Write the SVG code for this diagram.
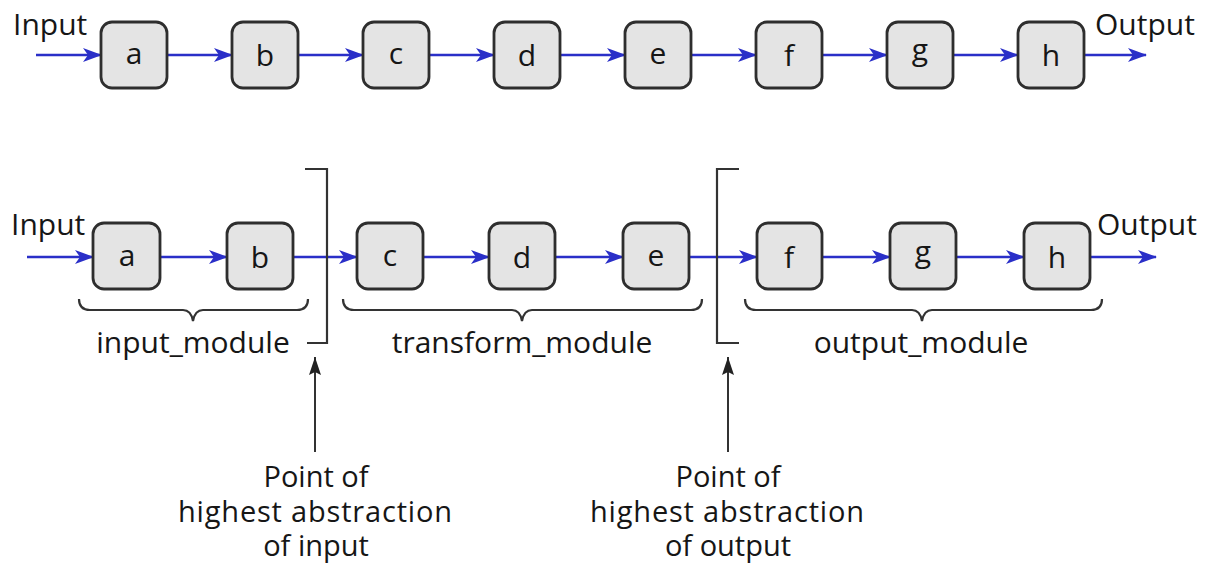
<svg xmlns="http://www.w3.org/2000/svg" width="1211" height="567" viewBox="0 0 1211 567">
<defs>
<style>
.box{fill:#e4e4e4;stroke:#2e2e2e;stroke-width:2.8}
.lbl{font-family:"Open Sans","Liberation Sans",sans-serif;font-size:30px;fill:#161616}
.note{font-size:29px}
.mid{text-anchor:middle}
.flow{stroke:#2a2fc8;stroke-width:2.6;fill:none;marker-end:url(#ba)}
.bk{stroke:#333;stroke-width:2.2;fill:none}
.up{stroke:#333;stroke-width:2;fill:none;marker-end:url(#ka)}
</style>
<marker id="ba" markerUnits="userSpaceOnUse" markerWidth="20" markerHeight="16" refX="18" refY="8" orient="auto"><path d="M0,1 L19,8 L0,15 L5,8 z" fill="#2a2fc8"/></marker>
<marker id="ka" markerUnits="userSpaceOnUse" markerWidth="20" markerHeight="14" refX="18" refY="7" orient="auto"><path d="M0,1 L18,7 L0,13 L3,7 z" fill="#222"/></marker>
</defs>
<rect width="1211" height="567" fill="#fff"/>

<g id="connectors">
<line class="flow" x1="36" y1="55" x2="101" y2="55"/>
<line class="flow" x1="167" y1="55" x2="232" y2="55"/>
<line class="flow" x1="298" y1="55" x2="363" y2="55"/>
<line class="flow" x1="429" y1="55" x2="494" y2="55"/>
<line class="flow" x1="560" y1="55" x2="625" y2="55"/>
<line class="flow" x1="691" y1="55" x2="756" y2="55"/>
<line class="flow" x1="822" y1="55" x2="887" y2="55"/>
<line class="flow" x1="953" y1="55" x2="1018" y2="55"/>
<line class="flow" x1="1084" y1="55" x2="1146" y2="55"/>

<line class="flow" x1="27" y1="257" x2="93" y2="257"/>
<line class="flow" x1="160" y1="257" x2="227" y2="257"/>
<line class="flow" x1="293" y1="257" x2="357" y2="257"/>
<line class="flow" x1="423" y1="257" x2="489" y2="257"/>
<line class="flow" x1="555" y1="257" x2="623" y2="257"/>
<line class="flow" x1="689" y1="257" x2="757" y2="257"/>
<line class="flow" x1="822" y1="257" x2="890" y2="257"/>
<line class="flow" x1="956" y1="257" x2="1024" y2="257"/>
<line class="flow" x1="1090" y1="257" x2="1156" y2="257"/>

<line class="up" x1="315" y1="452" x2="315" y2="357"/>
<line class="up" x1="728" y1="452" x2="728" y2="357"/>
</g>

<g id="labels-top">
<text class="lbl" x="13" y="35">Input</text>
<text class="lbl" x="1095" y="35">Output</text>
</g>
<g id="top-a"><rect class="box" x="101" y="22" width="66" height="66" rx="11"/><text class="lbl mid" x="134" y="64">a</text></g>
<g id="top-b"><rect class="box" x="232" y="22" width="66" height="66" rx="11"/><text class="lbl mid" x="265" y="66">b</text></g>
<g id="top-c"><rect class="box" x="363" y="22" width="66" height="66" rx="11"/><text class="lbl mid" x="396" y="64">c</text></g>
<g id="top-d"><rect class="box" x="494" y="22" width="66" height="66" rx="11"/><text class="lbl mid" x="527" y="66">d</text></g>
<g id="top-e"><rect class="box" x="625" y="22" width="66" height="66" rx="11"/><text class="lbl mid" x="658" y="64">e</text></g>
<g id="top-f"><rect class="box" x="756" y="22" width="66" height="66" rx="11"/><text class="lbl mid" x="789" y="66">f</text></g>
<g id="top-g"><rect class="box" x="887" y="22" width="66" height="66" rx="11"/><text class="lbl mid" x="920" y="60">g</text></g>
<g id="top-h"><rect class="box" x="1018" y="22" width="66" height="66" rx="11"/><text class="lbl mid" x="1051" y="66">h</text></g>

<g id="labels-bottom">
<text class="lbl" x="11" y="235">Input</text>
<text class="lbl" x="1097" y="235">Output</text>
</g>
<g id="bot-a"><rect class="box" x="93" y="223" width="67" height="66" rx="11"/><text class="lbl mid" x="127" y="266">a</text></g>
<g id="bot-b"><rect class="box" x="227" y="223" width="66" height="66" rx="11"/><text class="lbl mid" x="260" y="268">b</text></g>
<g id="bot-c"><rect class="box" x="357" y="223" width="66" height="66" rx="11"/><text class="lbl mid" x="390" y="266">c</text></g>
<g id="bot-d"><rect class="box" x="489" y="223" width="66" height="66" rx="11"/><text class="lbl mid" x="522" y="268">d</text></g>
<g id="bot-e"><rect class="box" x="623" y="223" width="66" height="66" rx="11"/><text class="lbl mid" x="656" y="266">e</text></g>
<g id="bot-f"><rect class="box" x="757" y="223" width="65" height="66" rx="11"/><text class="lbl mid" x="789" y="268">f</text></g>
<g id="bot-g"><rect class="box" x="890" y="223" width="66" height="66" rx="11"/><text class="lbl mid" x="923" y="262">g</text></g>
<g id="bot-h"><rect class="box" x="1024" y="223" width="66" height="66" rx="11"/><text class="lbl mid" x="1057" y="268">h</text></g>

<g id="brackets">
<path class="bk" d="M305,169 H327 V343 H307"/>
<path class="bk" d="M739,169 H717 V343 H739"/>
</g>

<g id="braces">
<path class="bk" d="M79,299 Q79,310 90,310 H183 Q191,310 193,321 Q195,310 203,310 H297 Q308,310 308,299"/>
<path class="bk" d="M343,299 Q343,310 354,310 H512 Q520,310 522,321 Q524,310 532,310 H691 Q702,310 702,299"/>
<path class="bk" d="M745,299 Q745,310 756,310 H912 Q920,310 922,321 Q924,310 932,310 H1091 Q1102,310 1102,299"/>
</g>

<g id="module-labels">
<text class="lbl mid" x="193" y="353">input_module</text>
<text class="lbl mid" x="522" y="353">transform_module</text>
<text class="lbl mid" x="921" y="353">output_module</text>
</g>

<g id="note-input">
<text class="lbl note mid" x="316" y="487">Point of</text>
<text class="lbl note mid" x="315" y="522" textLength="274">highest abstraction</text>
<text class="lbl note mid" x="316" y="556">of input</text>
</g>
<g id="note-output">
<text class="lbl note mid" x="728" y="487">Point of</text>
<text class="lbl note mid" x="727" y="522" textLength="274">highest abstraction</text>
<text class="lbl note mid" x="728" y="556">of output</text>
</g>
</svg>
